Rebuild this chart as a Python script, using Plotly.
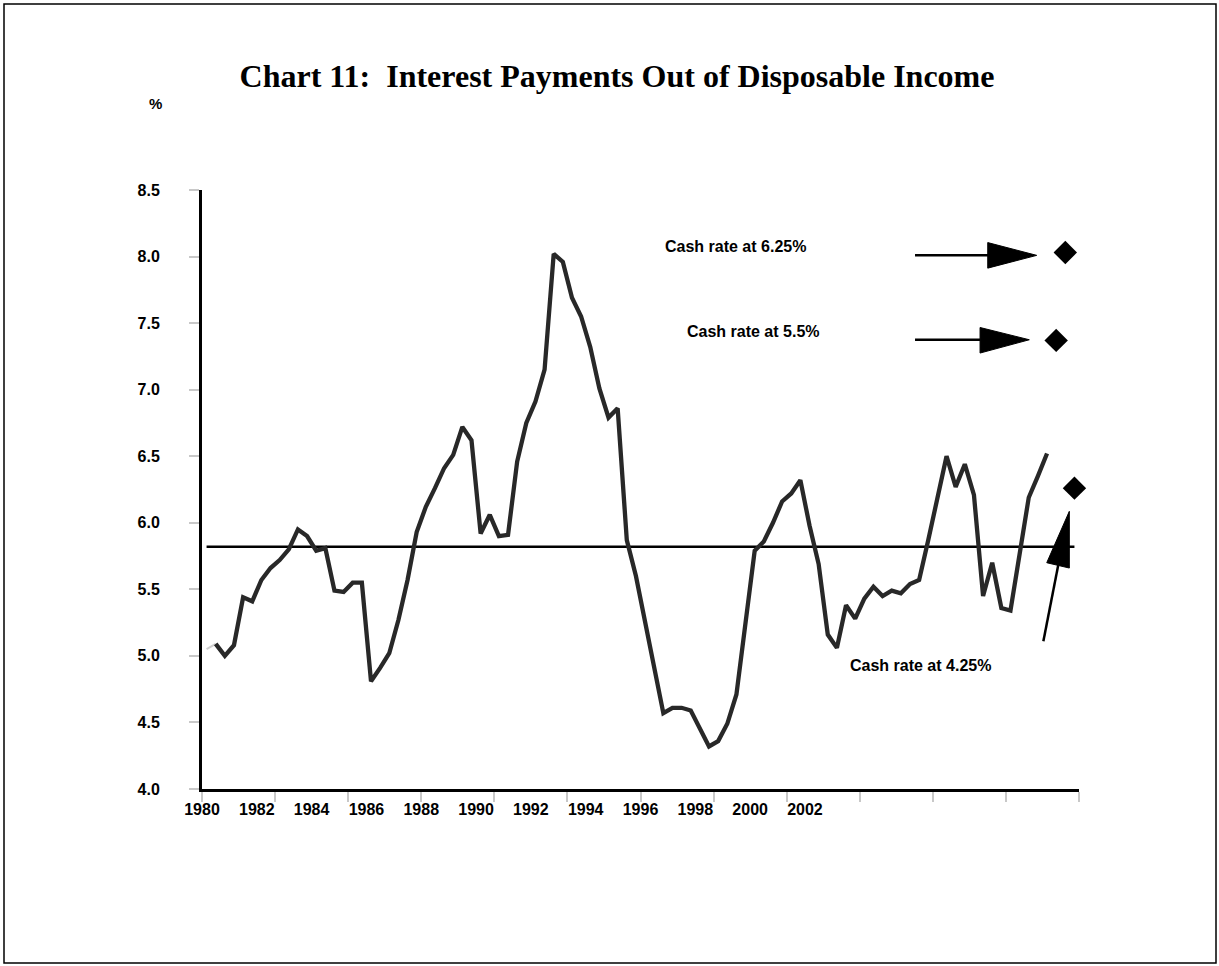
import plotly.graph_objects as go

# ---------------------------------------------------------------- data
# Household interest payments as a share of disposable income, quarterly from 1980Q1
ratio = [5.05, 5.09, 5.00, 5.08, 5.44, 5.41, 5.57, 5.66, 5.72, 5.80,
         5.95, 5.90, 5.79, 5.81, 5.49, 5.48, 5.55, 5.55, 4.81, 4.91,
         5.02, 5.27, 5.57, 5.93, 6.12, 6.26, 6.41, 6.51, 6.72, 6.62,
         5.92, 6.06, 5.90, 5.91, 6.46, 6.75, 6.91, 7.15, 8.02, 7.96,
         7.69, 7.55, 7.32, 7.01, 6.79, 6.86, 5.87, 5.60, 5.26, 4.90,
         4.57, 4.61, 4.61, 4.59, 4.46, 4.32, 4.36, 4.49, 4.71, 5.24,
         5.79, 5.86, 6.00, 6.16, 6.22, 6.32, 5.98, 5.69, 5.16, 5.06,
         5.38, 5.28, 5.43, 5.52, 5.45, 5.49, 5.47, 5.54, 5.57, 5.87,
         6.20, 6.50, 6.27, 6.44, 6.21, 5.45, 5.70, 5.36, 5.34, 5.76,
         6.19, 6.35, 6.52]

n_categories = 96          # quarter slots on the category axis
long_run_average = 5.82

scenario_labels = ["Cash rate at 6.25%", "Cash rate at 5.5%", "Cash rate at 4.25%"]
scenario_values = [8.03, 7.37, 6.26]
scenario_slots = [94, 93, 95]

year_labels = [str(y) for y in range(1980, 2003, 2)]
label_step = 6             # categories between year labels
tick_step = 8              # categories between tick marks
y_ticks = [4.0, 4.5, 5.0, 5.5, 6.0, 6.5, 7.0, 7.5, 8.0, 8.5]

# ---------------------------------------------------------------- layout constants
W, H = 1219, 966
M_L, M_R, M_T, M_B = 202, 140, 190, 177
PW, PH = W - M_L - M_R, H - M_T - M_B

SANS = "Liberation Sans, Arial, sans-serif"
SERIF = "Liberation Serif, Times New Roman, serif"
INK = "#282828"
TICK_GREY = "#c8c8c8"


def px_to_paper(px, py):
    return (px - M_L) / PW, (H - M_B - py) / PH


x_lo, x_hi = -0.5, n_categories - 0.5
slots = list(range(len(ratio)))

fig = go.Figure()

# long-run average across every quarter slot
fig.add_trace(go.Scatter(
    x=list(range(n_categories)), y=[long_run_average] * n_categories,
    mode="lines", line=dict(color="black", width=2.5), hoverinfo="skip"))

# first segment is drawn faintly, as in the source workbook
fig.add_trace(go.Scatter(
    x=slots[:2], y=ratio[:2], mode="lines",
    line=dict(color="#cfcfcf", width=2)))

fig.add_trace(go.Scatter(
    x=slots[1:], y=ratio[1:], mode="lines",
    line=dict(color=INK, width=4.3, shape="linear"),
    name="Interest payments"))

# scenario points
fig.add_trace(go.Scatter(
    x=scenario_slots, y=scenario_values, mode="markers",
    marker=dict(symbol="diamond", size=18, color="black"),
    text=scenario_labels, cliponaxis=False))

# tick labels live on a second axis sharing the same category range
fig.add_trace(go.Scatter(x=[x_lo], y=[4.0], xaxis="x2", mode="markers",
                         marker=dict(opacity=0), hoverinfo="skip"))

label_font = dict(family=SANS, size=16, color="black", weight="bold")

fig.update_layout(
    width=W, height=H, showlegend=False,
    margin=dict(l=M_L, r=M_R, t=M_T, b=M_B, pad=0),
    paper_bgcolor="white", plot_bgcolor="white",
    title=dict(text="Chart 11:  Interest Payments Out of Disposable Income",
               font=dict(family=SERIF, size=32, color="black", weight="bold"),
               xref="container", yref="container",
               x=617 / W, y=(H - 76) / H, xanchor="center", yanchor="middle"),
    xaxis=dict(range=[x_lo, x_hi], showgrid=False, zeroline=False,
               showline=True, linecolor="black", linewidth=3,
               tickmode="linear", tick0=x_lo, dtick=tick_step,
               ticks="outside", ticklen=10, tickwidth=2, tickcolor=TICK_GREY,
               showticklabels=False),
    xaxis2=dict(range=[x_lo, x_hi], overlaying="x", side="bottom", anchor="y",
                showgrid=False, zeroline=False, showline=False, ticks="",
                tickmode="array",
                tickvals=[x_lo + label_step * i for i in range(len(year_labels))],
                ticktext=year_labels, tickfont=label_font,
                ticklabelstandoff=9),
    yaxis=dict(range=[4.0, 8.5], showgrid=False, zeroline=False,
               showline=True, linecolor="black", linewidth=3,
               tickmode="array", tickvals=y_ticks,
               ticktext=[f"{v:.1f}" for v in y_ticks],
               ticks="outside", ticklen=10, tickwidth=2, tickcolor=TICK_GREY,
               tickfont=label_font, ticklabelstandoff=26),
)

# scenario captions
caption_pos = [(57.9, 8.073), (59.85, 7.435), (78.1, 4.927)]
for text, (cx, cy) in zip(scenario_labels, caption_pos):
    fig.add_annotation(x=cx, y=cy, xref="x", yref="y", text=text,
                       showarrow=False, font=label_font,
                       xanchor="center", yanchor="middle")

# unit label
ux, uy = px_to_paper(155, 104)
fig.add_annotation(x=ux, y=uy, xref="paper", yref="paper", text="%",
                   showarrow=False, font=dict(family=SANS, size=15,
                                              color="black", weight="bold"),
                   xanchor="center", yanchor="middle")

# pointer arrows: shaft plus a filled head
arrows = [
    dict(shaft=((77.55, 8.009), (85.6, 8.009)),
         head=((85.51, 8.105), (90.87, 8.009), (85.51, 7.913))),
    dict(shaft=((77.55, 7.375), (84.7, 7.375)),
         head=((84.67, 7.467), (90.06, 7.375), (84.67, 7.275))),
    dict(shaft=((91.6, 5.11), (93.25, 5.69)),
         head=((91.97, 5.70), (94.44, 6.086), (94.44, 5.66))),
]
for a in arrows:
    (x0, y0), (x1, y1) = a["shaft"]
    fig.add_shape(type="line", xref="x", yref="y", x0=x0, y0=y0, x1=x1, y1=y1,
                  line=dict(color="black", width=2.5))
    p = a["head"]
    path = f"M{p[0][0]},{p[0][1]} L{p[1][0]},{p[1][1]} L{p[2][0]},{p[2][1]} Z"
    fig.add_shape(type="path", xref="x", yref="y", path=path,
                  fillcolor="black", line=dict(color="black", width=1))

# outer frame
bx0, by0 = px_to_paper(4, 963)
bx1, by1 = px_to_paper(1216, 4)
fig.add_shape(type="rect", xref="paper", yref="paper",
              x0=bx0, y0=by0, x1=bx1, y1=by1,
              line=dict(color="black", width=1.5), layer="below")

fig.write_html("out.html")
